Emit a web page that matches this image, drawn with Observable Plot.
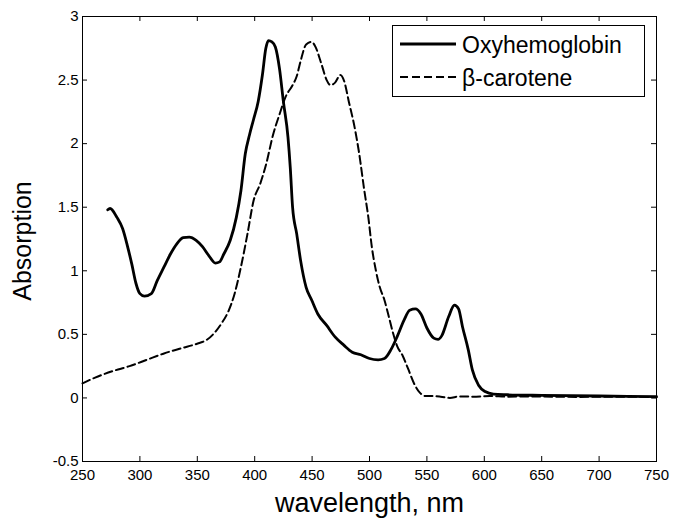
<!DOCTYPE html>
<html>
<head>
<meta charset="utf-8">
<script src="https://cdn.jsdelivr.net/npm/d3@7"></script>
<script src="https://cdn.jsdelivr.net/npm/@observablehq/plot@0.6"></script>
<style>
  body { margin: 0; background: #fff; }
  #wrap { position: relative; width: 673px; height: 521px; font-family: "Liberation Sans", Arial, sans-serif; }
  #legend { position: absolute; left: 392px; top: 25px; }
</style>
</head>
<body>
<div id="wrap"></div>
<script>
// ---- data ----
const seriesNames = ["Oxyhemoglobin", "β-carotene"];

const oxyWavelength = [272, 274, 280, 285, 289, 293, 296.6, 300, 304, 310, 315, 321, 326.5, 332, 337.7, 343, 349, 354.5, 360, 365.7, 369.4, 373, 378.7, 384, 388, 391.8, 395.5, 399, 403, 406.7, 409.7, 412, 415, 418, 421.6, 425, 429, 431, 433, 436.6, 440, 444.8, 449.6, 455, 462.7, 470, 477.6, 485, 492.5, 500, 507.5, 513, 518.7, 524, 530, 535, 540, 544.8, 550, 556, 559.7, 563, 569, 574, 577.6, 581, 586, 589.6, 595, 600.7, 608, 620, 650, 700, 750];
const oxyAbsorption = [1.48, 1.49, 1.42, 1.33, 1.2, 1.05, 0.9, 0.82, 0.8, 0.82, 0.92, 1.03, 1.13, 1.21, 1.26, 1.265, 1.24, 1.19, 1.12, 1.06, 1.07, 1.13, 1.24, 1.42, 1.63, 1.92, 2.07, 2.19, 2.33, 2.54, 2.75, 2.81, 2.8, 2.76, 2.59, 2.33, 2.05, 1.81, 1.5, 1.29, 1.08, 0.87, 0.77, 0.66, 0.57, 0.48, 0.415, 0.36, 0.34, 0.31, 0.3, 0.31, 0.38, 0.48, 0.61, 0.69, 0.7, 0.66, 0.55, 0.47, 0.46, 0.49, 0.64, 0.73, 0.7, 0.56, 0.38, 0.22, 0.1, 0.05, 0.03, 0.025, 0.02, 0.015, 0.01];

const caroWavelength = [250, 261, 276, 291, 306, 321, 336, 351, 358, 365.7, 371, 377, 382.5, 388, 393.7, 399, 405, 410, 416, 421.6, 427, 433, 436.6, 440, 444.8, 449.6, 453, 458, 462.7, 466, 470, 474.6, 478, 482, 487, 490.7, 495.5, 499, 502, 505.6, 509, 513, 516.8, 520.5, 524, 529, 533.6, 539, 544, 548.5, 555, 562, 570, 578, 590, 605, 620, 640, 660, 680, 700, 720, 750];
const caroAbsorption = [0.115, 0.16, 0.21, 0.25, 0.3, 0.35, 0.39, 0.43, 0.455, 0.52, 0.585, 0.68, 0.82, 1.03, 1.29, 1.55, 1.69, 1.84, 2.07, 2.23, 2.37, 2.46, 2.53, 2.65, 2.78, 2.8, 2.76, 2.63, 2.5, 2.46, 2.48, 2.54, 2.49, 2.33, 2.13, 1.94, 1.63, 1.42, 1.19, 1.0, 0.87, 0.77, 0.64, 0.51, 0.41, 0.33, 0.23, 0.11, 0.04, 0.015, 0.015, 0.01, 0.0, 0.012, 0.01, 0.015, 0.01, 0.012, 0.01, 0.008, 0.01, 0.01, 0.005];

const xTicks = [250, 300, 350, 400, 450, 500, 550, 600, 650, 700, 750];
const yTicks = [-0.5, 0, 0.5, 1, 1.5, 2, 2.5, 3];
const yTickLabels = ["-0.5", "0", "0.5", "1", "1.5", "2", "2.5", "3"];
const xLabel = "wavelength, nm";
const yLabel = "Absorption";

// ---- build tables ----
const oxy = oxyWavelength.map((w, i) => ({w, a: oxyAbsorption[i]}));
const caro = caroWavelength.map((w, i) => ({w, a: caroAbsorption[i]}));

const font = "Liberation Sans, Arial, sans-serif";
const W = 673, H = 521, mL = 82, mR = 17, mT = 16, mB = 60;
const frameW = W - mL - mR, frameH = H - mT - mB, tickLen = 5;

const chart = Plot.plot({
  width: W,
  height: H,
  marginLeft: mL,
  marginRight: mR,
  marginTop: mT,
  marginBottom: mB,
  style: {fontFamily: font, fontSize: "15px", color: "black", background: "white", overflow: "visible"},
  x: {domain: [250, 750], ticks: xTicks},
  y: {domain: [-0.5, 3], ticks: yTicks},
  marks: [
    Plot.frame({stroke: "black", strokeWidth: 1}),
    // inward ticks on all four sides
    Plot.tickX(xTicks, {x: (d) => d, insetTop: frameH - tickLen, stroke: "black", strokeWidth: 1}),
    Plot.tickX(xTicks, {x: (d) => d, insetBottom: frameH - tickLen, stroke: "black", strokeWidth: 1}),
    Plot.tickY(yTicks, {y: (d) => d, insetRight: frameW - tickLen, stroke: "black", strokeWidth: 1}),
    Plot.tickY(yTicks, {y: (d) => d, insetLeft: frameW - tickLen, stroke: "black", strokeWidth: 1}),
    Plot.line(caro, {x: "w", y: "a", stroke: "black", strokeWidth: 2, strokeDasharray: "8,4", curve: "monotone-x"}),
    Plot.line(oxy, {x: "w", y: "a", stroke: "black", strokeWidth: 2.8, curve: "monotone-x"}),
    Plot.axisX({anchor: "bottom", ticks: xTicks, tickSize: 0, tickPadding: 8, label: null, fontSize: 15}),
    Plot.axisY({anchor: "left", ticks: yTicks, tickSize: 0, tickPadding: 4, label: null, fontSize: 15,
      tickFormat: (d) => yTickLabels[yTicks.indexOf(d)]}),
    Plot.text([xLabel], {frameAnchor: "bottom", lineAnchor: "middle", textAnchor: "middle", dy: 42, text: (d) => d, fontSize: 27, fill: "black"}),
    Plot.text([yLabel], {frameAnchor: "left", lineAnchor: "middle", textAnchor: "middle", dx: -60, dy: 2, rotate: -90, text: (d) => d, fontSize: 25, fill: "black"})
  ]
});

document.getElementById("wrap").appendChild(chart);

// legend (inside the plot, top right)
const svgNS = "http://www.w3.org/2000/svg";
const lg = document.createElementNS(svgNS, "svg");
lg.setAttribute("id", "legend");
lg.setAttribute("width", 253);
lg.setAttribute("height", 72);
lg.innerHTML = `<rect x="0.5" y="0.5" width="252" height="71" fill="white" stroke="black" stroke-width="1"/>` +
  seriesNames.map((name, i) => {
    const cy = 19 + i * 33;
    const dash = i === 0 ? "" : `stroke-dasharray="8,4"`;
    const sw = i === 0 ? 2.8 : 2;
    return `<line x1="8" x2="64" y1="${cy}" y2="${cy}" stroke="black" stroke-width="${sw}" ${dash}/>` +
      `<text x="70" y="${cy + 8.5}" font-family="${font}" font-size="23" fill="black">${name}</text>`;
  }).join("");
document.getElementById("wrap").appendChild(lg);
</script>
</body>
</html>
